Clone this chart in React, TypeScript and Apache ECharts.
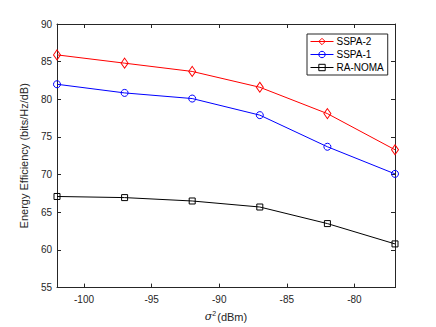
import React, { useEffect, useRef } from "react";
import * as echarts from "echarts";

const xValues = [-102, -97, -92, -87, -82, -77];
const sspa2 = [85.9, 84.8, 83.7, 81.6, 78.1, 73.3];
const sspa1 = [82.0, 80.85, 80.1, 77.9, 73.7, 70.1];
const raNoma = [67.1, 66.95, 66.5, 65.7, 63.5, 60.8];
const xTicks = [-100, -95, -90, -85, -80];
const seriesNames = ["SSPA-2", "SSPA-1", "RA-NOMA"];
const seriesColors = ["#ff0000", "#0000ff", "#000000"];

const FONT = "'Liberation Sans', Arial, Helvetica, sans-serif";
const AX = "#262626";
const CLEAR = "rgba(255,255,255,0)";

export default function App() {
  const ref = useRef<HTMLDivElement>(null);
  useEffect(() => {
    if (!ref.current) return;
    const chart = echarts.init(ref.current, undefined, { renderer: "svg" });
    const pair = (ys: number[]) => xValues.map((x, i) => [x, ys[i]]);
    const mk = (name: string, ys: number[], color: string, symbol: string, size: any) => ({
      name,
      type: "line",
      data: pair(ys),
      symbol,
      symbolSize: size,
      showSymbol: true,
      lineStyle: { color, width: 1 },
      itemStyle: { color: CLEAR, borderColor: color, borderWidth: 1 },
      emphasis: { disabled: true },
      z: 3,
    });
    const tickStyle = { lineStyle: { color: AX, width: 1 } };
    chart.setOption({
      animation: false,
      backgroundColor: "#ffffff",
      textStyle: { fontFamily: FONT },
      grid: { left: 57, top: 24, width: 338, height: 266, containLabel: false },
      legend: {
        data: seriesNames.map((n, i) => ({
          name: n,
          itemStyle: { color: CLEAR, borderColor: seriesColors[i], borderWidth: 1 },
          lineStyle: { color: seriesColors[i], width: 1 },
        })),
        orient: "vertical",
        left: 307,
        top: 34,
        width: 78,
        backgroundColor: "#ffffff",
        borderColor: AX,
        borderWidth: 1,
        borderRadius: 0,
        padding: [2, 4, 2, 3],
        itemWidth: 23,
        itemHeight: 8,
        itemGap: 2,
        textStyle: { fontSize: 10, color: "#000", fontFamily: FONT, lineHeight: 11, padding: [0, 0, 0, -2] },
      },
      xAxis: [
        {
          type: "value",
          min: -102,
          max: -77,
          position: "bottom",
          name: "{i|σ}{sup|2}{n|(dBm)}",
          nameLocation: "middle",
          nameGap: 15,
          nameTextStyle: {
            rich: {
              i: { fontSize: 11, fontStyle: "italic", color: AX, fontFamily: "'DejaVu Serif', serif" },
              sup: { fontSize: 7, color: AX, padding: [0, 1, 7, 0] },
              n: { fontSize: 11, color: AX },
            },
          },
          axisLine: { show: true, lineStyle: { color: AX, width: 1 } },
          axisTick: { show: true, inside: true, length: 4, customValues: xTicks, ...tickStyle },
          axisLabel: { customValues: xTicks, fontSize: 10, color: AX, margin: 7 },
          splitLine: { show: false },
        },
        {
          type: "value",
          min: -102,
          max: -77,
          position: "top",
          axisLine: { show: true, onZero: false, lineStyle: { color: AX, width: 1 } },
          axisTick: { show: true, inside: true, length: 4, customValues: xTicks, ...tickStyle },
          axisLabel: { show: false },
          splitLine: { show: false },
        },
      ],
      yAxis: [
        {
          type: "value",
          min: 55,
          max: 90,
          interval: 5,
          position: "left",
          name: "Energy Efficiency (bits/Hz/dB)",
          nameLocation: "middle",
          nameGap: 20,
          nameTextStyle: { fontSize: 11, color: AX },
          axisLine: { show: true, onZero: false, lineStyle: { color: AX, width: 1 } },
          axisTick: { show: true, inside: true, length: 4, ...tickStyle },
          axisLabel: { fontSize: 10, color: AX, margin: 5 },
          splitLine: { show: false },
        },
        {
          type: "value",
          min: 55,
          max: 90,
          interval: 5,
          position: "right",
          axisLine: { show: true, onZero: false, lineStyle: { color: AX, width: 1 } },
          axisTick: { show: true, inside: true, length: 4, ...tickStyle },
          axisLabel: { show: false },
          splitLine: { show: false },
        },
      ],
      series: [
        mk(seriesNames[0], sspa2, seriesColors[0], "diamond", [7, 10]),
        mk(seriesNames[1], sspa1, seriesColors[1], "circle", 7),
        mk(seriesNames[2], raNoma, seriesColors[2], "rect", 6),
      ],
    });
    return () => chart.dispose();
  }, []);
  return <div ref={ref} style={{ width: 436, height: 327, position: "absolute", left: 0, top: 0 }} />;
}
